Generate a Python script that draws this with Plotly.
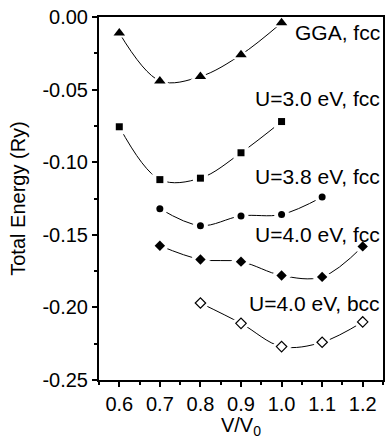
import plotly.graph_objects as go

x_gga = [0.6, 0.7, 0.8, 0.9, 1.0]
e_gga = [-0.011, -0.044, -0.041, -0.026, -0.004]

x_u30 = [0.6, 0.7, 0.8, 0.9, 1.0]
e_u30 = [-0.0756, -0.112, -0.111, -0.0935, -0.072]

x_u38 = [0.7, 0.8, 0.9, 1.0, 1.1]
e_u38 = [-0.132, -0.1437, -0.137, -0.136, -0.124]

x_u40f = [0.7, 0.8, 0.9, 1.0, 1.1, 1.2]
e_u40f = [-0.1575, -0.167, -0.1685, -0.178, -0.179, -0.158]

x_u40b = [0.8, 0.9, 1.0, 1.1, 1.2]
e_u40b = [-0.197, -0.211, -0.227, -0.224, -0.210]

labels = ["GGA, fcc", "U=3.0 eV, fcc", "U=3.8 eV, fcc", "U=4.0 eV, fcc", "U=4.0 eV, bcc"]
label_y = [-0.011, -0.0564, -0.110, -0.150, -0.197]

series = [
    (x_gga, e_gga, "triangle-up", 10, "black"),
    (x_u30, e_u30, "square", 7, "black"),
    (x_u38, e_u38, "circle", 7, "black"),
    (x_u40f, e_u40f, "diamond", 8, "black"),
    (x_u40b, e_u40b, "diamond-open", 8, "black"),
]

FONT = "Liberation Sans, Arial"

fig = go.Figure()
for xs, ys, sym, sz, col in series:
    fig.add_trace(go.Scatter(x=xs, y=ys, mode="lines",
                             line=dict(shape="spline", smoothing=1.0, color="black", width=1),
                             showlegend=False, hoverinfo="skip"))
for xs, ys, sym, sz, col in series:
    fig.add_trace(go.Scatter(x=xs, y=ys, mode="markers",
                             marker=dict(symbol=sym.replace("-open", ""), size=sz + 8, color="white",
                                         line=dict(width=0)),
                             showlegend=False, hoverinfo="skip"))
for xs, ys, sym, sz, col in series:
    if sym.endswith("-open"):
        mk = dict(symbol=sym.replace("-open", ""), size=sz, color="white",
                  line=dict(color="black", width=1.2))
    else:
        mk = dict(symbol=sym, size=sz, color="black", line=dict(width=0))
    fig.add_trace(go.Scatter(x=xs, y=ys, mode="markers", marker=mk, showlegend=False))

for lab, yy in zip(labels, label_y):
    fig.add_annotation(x=1, xref="paper", y=yy, yref="y", text=lab, showarrow=False,
                       xanchor="right", yanchor="middle", xshift=-1,
                       font=dict(size=21, color="black", family=FONT))

axis_common = dict(showline=True, linecolor="black", linewidth=2, mirror=True,
                   ticks="outside", ticklen=5, tickwidth=1.5, tickcolor="black",
                   showgrid=False, zeroline=False,
                   tickfont=dict(size=20, color="black", family=FONT))

fig.update_xaxes(range=[0.55, 1.25], tickmode="array",
                 tickvals=[0.6, 0.7, 0.8, 0.9, 1.0, 1.1, 1.2],
                 ticktext=["0.6", "0.7", "0.8", "0.9", "1.0", "1.1", "1.2"],
                 minor=dict(ticks="outside", ticklen=3, tickwidth=1.5, tickcolor="black",
                            tickvals=[0.55, 0.65, 0.75, 0.85, 0.95, 1.05, 1.15, 1.25]),
                 title=dict(text="V/V<sub>0</sub>", standoff=1,
                            font=dict(size=20, color="black", family=FONT)),
                 **axis_common)
fig.update_yaxes(range=[-0.25, 0.0], tickmode="array",
                 tickvals=[0.0, -0.05, -0.10, -0.15, -0.20, -0.25],
                 ticktext=["0.00", "-0.05", "-0.10", "-0.15", "-0.20", "-0.25"],
                 minor=dict(ticks="outside", ticklen=3, tickwidth=1.5, tickcolor="black",
                            tickvals=[-0.025, -0.075, -0.125, -0.175, -0.225]),
                 title=dict(text="Total Energy (Ry)", standoff=11,
                            font=dict(size=20, color="black", family=FONT)),
                 **axis_common)

fig.update_layout(width=386, height=439, margin=dict(l=99, r=1, t=17, b=59),
                  plot_bgcolor="white", paper_bgcolor="white",
                  font=dict(family=FONT, color="black"))

fig.write_html("out.html", config={"displayModeBar": False},
               post_script="document.body.style.margin='0px';document.body.style.overflow='hidden';")
